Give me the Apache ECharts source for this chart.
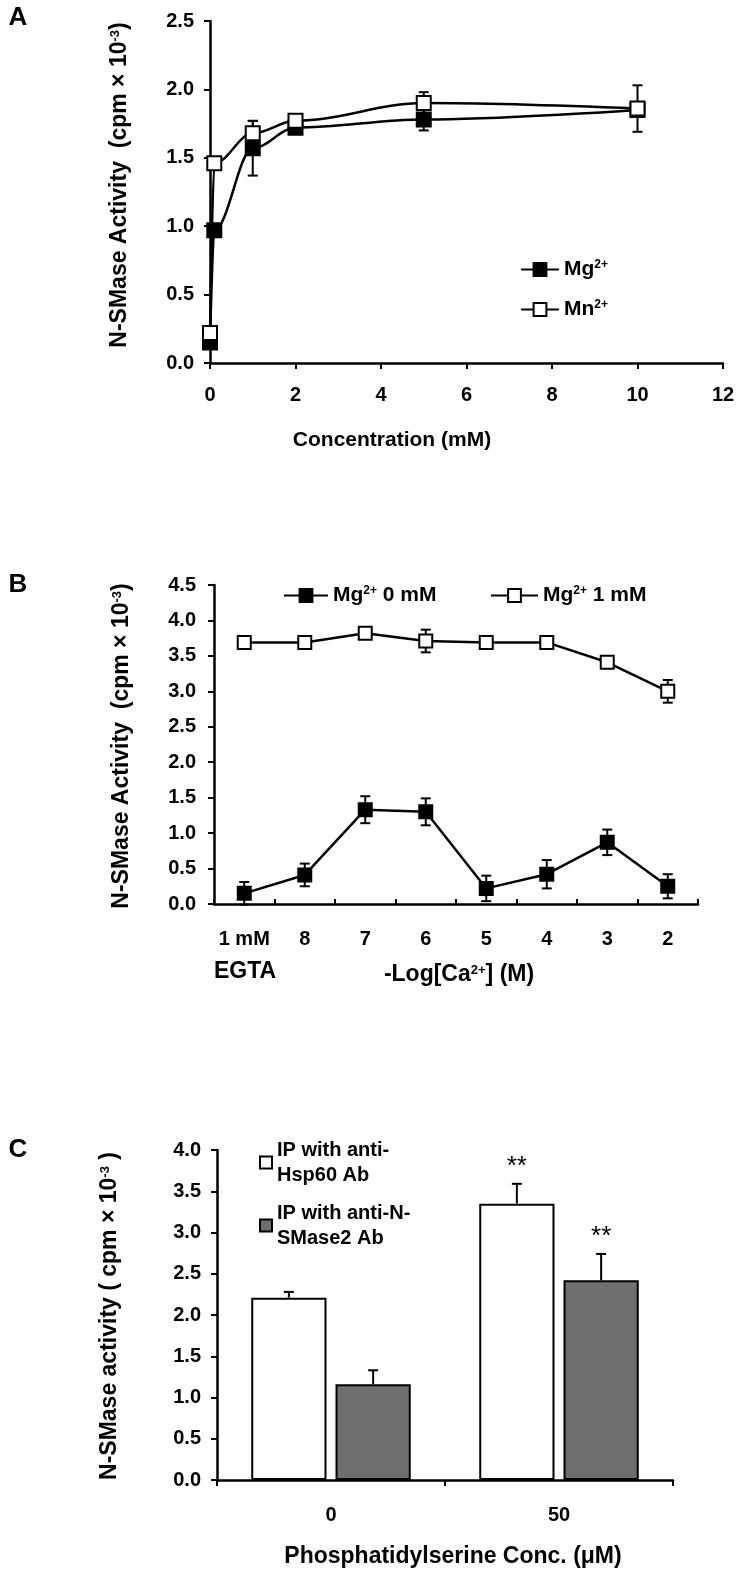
<!DOCTYPE html>
<html>
<head>
<meta charset="utf-8">
<script src="https://cdn.jsdelivr.net/npm/echarts@6/dist/echarts.min.js"></script>
<style>
  html, body { margin: 0; padding: 0; background: #fff; }
  #main { width: 741px; height: 1577px; }
</style>
</head>
<body>
<div id="main"></div>
<script>
// Panel A: activity vs cation concentration (mM)
const concMg = [0, 0.1, 1, 2, 5, 10];
const actMg = [0.15, 0.97, 1.57, 1.72, 1.78, 1.85];
const errMg = [0.03, 0.04, 0.2, 0.04, 0.08, 0.04];
const concMn = [0, 0.1, 1, 2, 5, 10];
const actMn = [0.22, 1.46, 1.68, 1.77, 1.90, 1.86];
const errMn = [0.04, 0.04, 0.09, 0.04, 0.08, 0.17];

// Panel B: activity vs -log[Ca2+]
const caLabels = ['1 mM', '8', '7', '6', '5', '4', '3', '2'];
const actMg0 = [0.15, 0.41, 1.33, 1.30, 0.22, 0.42, 0.87, 0.25];
const errMg0 = [0.16, 0.16, 0.19, 0.19, 0.18, 0.20, 0.18, 0.17];
const actMg1 = [3.69, 3.69, 3.82, 3.71, 3.69, 3.69, 3.41, 3.00];
const errMg1 = [0.03, 0.06, 0.03, 0.16, 0.02, 0.04, 0.03, 0.16];

// Panel C: activity vs phosphatidylserine (uM)
const psConc = ['0', '50'];
const actHsp60 = [2.21, 3.35];
const errHsp60 = [0.07, 0.24];
const actNSMase2 = [1.16, 2.42];
const errNSMase2 = [0.17, 0.32];
const sigHsp60 = ['', '**'];
const sigNSMase2 = ['', '**'];

const FONT = '"Liberation Sans", Arial, sans-serif';
const BLACK = '#000';
const GRAY = '#6f6f6f';

const rich = {
  b: { fontFamily: FONT, fontWeight: 'bold', fontSize: 21, color: BLACK },
  s: { fontFamily: FONT, fontWeight: 'bold', fontSize: 12, color: BLACK, verticalAlign: 'top' }
};
const titleRich = {
  b: { fontFamily: FONT, fontWeight: 'bold', fontSize: 23, color: BLACK },
  s: { fontFamily: FONT, fontWeight: 'bold', fontSize: 13, color: BLACK, verticalAlign: 'top' }
};

const chart = echarts.init(document.getElementById('main'), null, { renderer: 'canvas' });

function labelStyle(extra) {
  return Object.assign({ color: BLACK, fontFamily: FONT, fontWeight: 'bold', fontSize: 20 }, extra);
}

function valueAxisStyle(extra) {
  return Object.assign({
    axisLine: { show: true, onZero: false, lineStyle: { color: BLACK, width: 2.5 } },
    axisTick: { show: true, length: 6, lineStyle: { color: BLACK, width: 2 } },
    splitLine: { show: false }
  }, extra);
}

function errorBars(opts) {
  return function (params, api) {
    const x = api.value(0), y = api.value(1), e = api.value(2);
    const dx = opts.offset ? api.size([1, 0])[0] * opts.offset : 0;
    const top = api.coord([x, y + e]);
    const bot = api.coord([x, opts.upOnly ? y : y - e]);
    const cx = top[0] + dx;
    const st = { stroke: BLACK, lineWidth: 2 };
    const kids = [
      { type: 'line', shape: { x1: cx, y1: top[1], x2: cx, y2: bot[1] }, style: st },
      { type: 'line', shape: { x1: cx - opts.cap, y1: top[1], x2: cx + opts.cap, y2: top[1] }, style: st }
    ];
    if (!opts.upOnly) {
      kids.push({ type: 'line', shape: { x1: cx - opts.cap, y1: bot[1], x2: cx + opts.cap, y2: bot[1] }, style: st });
    }
    if (opts.sig && opts.sig[params.dataIndex]) {
      kids.push({ type: 'text', x: cx, y: top[1] - 4,
        style: { text: opts.sig[params.dataIndex], font: 'normal 26px ' + FONT, fill: BLACK, align: 'center', verticalAlign: 'bottom' } });
    }
    return { type: 'group', children: kids };
  };
}

const zip = (xs, ys) => xs.map((x, i) => [x, ys[i]]);
const zip3 = (xs, ys, es) => xs.map((x, i) => [x, ys[i], es[i]]);
const idx = arr => arr.map((_, i) => i);

function yTitle(x, y, parts) {
  return { type: 'text', x: x, y: y, rotation: Math.PI / 2,
    style: { text: parts, rich: titleRich, align: 'center', verticalAlign: 'middle' } };
}
function plainText(x, y, t, size) {
  return { type: 'text', x: x, y: y,
    style: { text: t, font: 'bold ' + size + 'px ' + FONT, fill: BLACK, align: 'center', verticalAlign: 'middle' } };
}

const option = {
  backgroundColor: '#fff',
  animation: false,
  grid: [
    { left: 210, top: 21, width: 513, height: 342 },
    { left: 214, top: 585, width: 484, height: 319 },
    { left: 217, top: 1150, width: 456, height: 330 }
  ],
  xAxis: [
    valueAxisStyle({ gridIndex: 0, type: 'value', min: 0, max: 12, interval: 2,
      axisLabel: labelStyle({ margin: 22 }) }),
    { gridIndex: 1, type: 'category', data: caLabels, boundaryGap: true,
      axisLine: { show: true, lineStyle: { color: BLACK, width: 2.5 } },
      axisTick: { show: true, inside: true, length: 5, interval: 0, lineStyle: { color: BLACK, width: 2 } },
      axisLabel: labelStyle({ margin: 25, interval: 0 }) },
    { gridIndex: 2, type: 'category', data: psConc, boundaryGap: true,
      axisLine: { show: true, lineStyle: { color: BLACK, width: 2.5 } },
      axisTick: { show: true, length: 6, interval: 0, lineStyle: { color: BLACK, width: 2 } },
      axisLabel: labelStyle({ margin: 25, interval: 0 }) }
  ],
  yAxis: [
    valueAxisStyle({ gridIndex: 0, type: 'value', min: 0, max: 2.5, interval: 0.5,
      axisLabel: labelStyle({ margin: 16, formatter: v => v.toFixed(1) }) }),
    valueAxisStyle({ gridIndex: 1, type: 'value', min: 0, max: 4.5, interval: 0.5,
      axisLabel: labelStyle({ margin: 18, formatter: v => v.toFixed(1) }) }),
    valueAxisStyle({ gridIndex: 2, type: 'value', min: 0, max: 4, interval: 0.5,
      axisLabel: labelStyle({ margin: 16, formatter: v => v.toFixed(1) }) })
  ],
  legend: [
    { left: 520, top: 259, padding: 0, selectedMode: false, itemWidth: 38, itemHeight: 16,
      data: ['Mg2+'], formatter: () => '{b|Mg}{s|2+}', textStyle: { rich: rich } },
    { left: 520, top: 299, padding: 0, selectedMode: false, itemWidth: 38, itemHeight: 16,
      data: ['Mn2+'], formatter: () => '{b|Mn}{s|2+}', textStyle: { rich: rich } },
    { left: 283, top: 585, padding: 0, selectedMode: false, itemWidth: 44, itemHeight: 16,
      data: ['Mg2+ 0 mM'], formatter: () => '{b|Mg}{s|2+}{b| 0 mM}', textStyle: { rich: rich } },
    { left: 490, top: 585, padding: 0, selectedMode: false, itemWidth: 47, itemHeight: 16,
      data: ['Mg2+ 1 mM'], formatter: () => '{b|Mg}{s|2+}{b| 1 mM}', textStyle: { rich: rich } },
    { left: 259, top: 1125, padding: 0, selectedMode: false, itemWidth: 12, itemHeight: 12, icon: 'rect',
      data: ['Hsp60'], formatter: () => 'IP with anti-\nHsp60 Ab',
      textStyle: { fontFamily: FONT, fontWeight: 'bold', fontSize: 20, color: BLACK, lineHeight: 25, padding: [25, 0, 0, 0] } },
    { left: 259, top: 1188, padding: 0, selectedMode: false, itemWidth: 12, itemHeight: 12, icon: 'rect',
      data: ['NSMase2'], formatter: () => 'IP with anti-N-\nSMase2 Ab',
      textStyle: { fontFamily: FONT, fontWeight: 'bold', fontSize: 20, color: BLACK, lineHeight: 25, padding: [25, 0, 0, 0] } }
  ],
  graphic: [
    plainText(18, 18, 'A', 26),
    plainText(18, 585, 'B', 26),
    plainText(18, 1150, 'C', 26),
    yTitle(120, 185, '{b|N-SMase Activity  (cpm × 10}{s|-3}{b|)}'),
    yTitle(122, 746, '{b|N-SMase Activity  (cpm × 10}{s|-3}{b|)}'),
    yTitle(110, 1316, '{b|N-SMase activity ( cpm × 10}{s|-3}{b| )}'),
    plainText(392, 440, 'Concentration (mM)', 21),
    plainText(245, 972, 'EGTA', 23),
    { type: 'text', x: 459, y: 975,
      style: { text: '{b|-Log[Ca}{s|2+}{b|] (M)}', rich: titleRich, align: 'center', verticalAlign: 'middle' } },
    plainText(453, 1557, 'Phosphatidylserine Conc. (μM)', 23)
  ],
  series: [
    // Panel A
    { name: 'Mg2+', type: 'line', xAxisIndex: 0, yAxisIndex: 0, data: zip(concMg, actMg),
      smooth: 0.35, smoothMonotone: 'x', clip: false, z: 3,
      symbol: 'rect', symbolSize: 14, lineStyle: { color: BLACK, width: 2.5 },
      itemStyle: { color: BLACK, borderColor: BLACK, borderWidth: 2 } },
    { name: 'Mn2+', type: 'line', xAxisIndex: 0, yAxisIndex: 0, data: zip(concMn, actMn),
      smooth: 0.35, smoothMonotone: 'x', clip: false, z: 4,
      symbol: 'rect', symbolSize: 14, lineStyle: { color: BLACK, width: 2.5 },
      itemStyle: { color: '#fff', borderColor: BLACK, borderWidth: 2 } },
    { type: 'custom', xAxisIndex: 0, yAxisIndex: 0, z: 1, clip: false,
      data: zip3(concMg, actMg, errMg), renderItem: errorBars({ cap: 5 }) },
    { type: 'custom', xAxisIndex: 0, yAxisIndex: 0, z: 1, clip: false,
      data: zip3(concMn, actMn, errMn), renderItem: errorBars({ cap: 5 }) },
    // Panel B
    { name: 'Mg2+ 0 mM', type: 'line', xAxisIndex: 1, yAxisIndex: 1, data: actMg0, z: 3,
      symbol: 'rect', symbolSize: 13, lineStyle: { color: BLACK, width: 2.5 },
      itemStyle: { color: BLACK, borderColor: BLACK, borderWidth: 2 } },
    { name: 'Mg2+ 1 mM', type: 'line', xAxisIndex: 1, yAxisIndex: 1, data: actMg1, z: 3,
      symbol: 'rect', symbolSize: 13, lineStyle: { color: BLACK, width: 2.5 },
      itemStyle: { color: '#fff', borderColor: BLACK, borderWidth: 2 } },
    { type: 'custom', xAxisIndex: 1, yAxisIndex: 1, z: 1,
      data: zip3(idx(caLabels), actMg0, errMg0), renderItem: errorBars({ cap: 5 }) },
    { type: 'custom', xAxisIndex: 1, yAxisIndex: 1, z: 1,
      data: zip3(idx(caLabels), actMg1, errMg1), renderItem: errorBars({ cap: 5 }) },
    // Panel C
    { name: 'Hsp60', type: 'bar', xAxisIndex: 2, yAxisIndex: 2, data: actHsp60,
      barWidth: '33%', barGap: '12%',
      itemStyle: { color: '#fff', borderColor: BLACK, borderWidth: 2 } },
    { name: 'NSMase2', type: 'bar', xAxisIndex: 2, yAxisIndex: 2, data: actNSMase2,
      barWidth: '33%', barGap: '12%',
      itemStyle: { color: GRAY, borderColor: BLACK, borderWidth: 2 } },
    { type: 'custom', xAxisIndex: 2, yAxisIndex: 2, z: 3,
      data: zip3(idx(psConc), actHsp60, errHsp60),
      renderItem: errorBars({ cap: 5, upOnly: true, offset: -0.1848, sig: sigHsp60 }) },
    { type: 'custom', xAxisIndex: 2, yAxisIndex: 2, z: 3,
      data: zip3(idx(psConc), actNSMase2, errNSMase2),
      renderItem: errorBars({ cap: 5, upOnly: true, offset: 0.1848, sig: sigNSMase2 }) }
  ]
};

chart.setOption(option);
</script>
</body>
</html>
